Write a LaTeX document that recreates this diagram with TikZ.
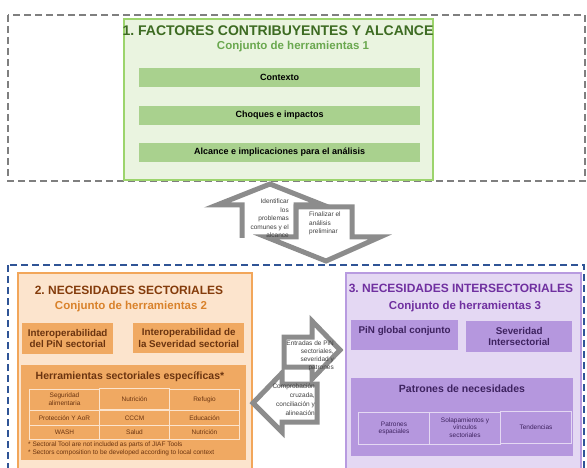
\documentclass[tikz,border=0pt]{standalone}
\usepackage{fontspec}
\setmainfont{Liberation Sans}
\usetikzlibrary{calc,matrix,positioning}
\frenchspacing

\definecolor{grisMarco}{HTML}{7F7F7F}
\definecolor{azulMarco}{HTML}{2F5496}
\definecolor{grisFlecha}{HTML}{8C8C8C}
\definecolor{grisTexto}{HTML}{404040}
\definecolor{verdeBorde}{HTML}{9CD46C}
\definecolor{verdeFondo}{HTML}{EAF4E0}
\definecolor{verdeCaja}{HTML}{A9D18E}
\definecolor{verdeTitulo}{HTML}{3D6B22}
\definecolor{verdeSub}{HTML}{6AA84F}
\definecolor{naranjaBorde}{HTML}{F2A65A}
\definecolor{naranjaFondo}{HTML}{FCE4CD}
\definecolor{naranjaCaja}{HTML}{F0A962}
\definecolor{naranjaTitulo}{HTML}{843C0C}
\definecolor{naranjaSub}{HTML}{D9822B}
\definecolor{naranjaTexto}{HTML}{6B3410}
\definecolor{moradoBorde}{HTML}{B89BE0}
\definecolor{moradoFondo}{HTML}{E4D8F3}
\definecolor{moradoCaja}{HTML}{B597DE}
\definecolor{moradoTitulo}{HTML}{7030A0}
\definecolor{moradoTexto}{HTML}{3E2360}

\newcommand{\tam}[2]{\fontsize{#1}{#2}\selectfont}
\newcommand{\lineas}[1]{\begin{tabular}{@{}c@{}}#1\end{tabular}}

\begin{document}
\begin{tikzpicture}[x=1pt,y=-1pt,
    marco/.style={draw=#1,line width=1.6pt,dash pattern=on 7pt off 4pt},
    bloque/.style={draw=#1Borde,fill=#1Fondo,line width=2.4pt,anchor=north west,inner sep=0pt},
    caja/.style={fill=#1Caja,anchor=north west,inner sep=0pt},
    titulo/.style={font=\tam{12}{14}\bfseries},
    subtitulo/.style={font=\tam{11.5}{13}\bfseries},
    etiqueta/.style={font=\tam{9.8}{11.5}\bfseries,align=center},
    celda/.style={draw=#1,line width=0.6pt,inner sep=0pt,font=\tam{6.5}{7.5}},
    flecha/.style={draw=grisFlecha,line width=5pt,fill=white,line join=miter},
    nota/.style={font=\tam{6.5}{8.5},text=grisTexto,inner sep=0pt}
  ]
    \useasboundingbox (0,0) rectangle (587,468);

    \draw[marco=grisMarco] (8,15) rectangle (585,181);
    \node[bloque=verde,minimum width=309pt,minimum height=161pt] (herr1) at (123,18) {};
    \node[titulo,font=\tam{14}{16}\bfseries,text=verdeTitulo] (tit1) at (278,31) {1. FACTORES CONTRIBUYENTES Y ALCANCE};
    \node[subtitulo,text=verdeSub] (sub1) at (293,47) {Conjunto de herramientas 1};
    \foreach \y/\t [count=\i] in {68/Contexto,106/Choques e impactos,143/Alcance e implicaciones para el análisis}
      \node[caja=verde,minimum width=281pt,minimum height=18.5pt,font=\tam{9}{10}\bfseries] (barra\i) at (139,\y) {\t};

    \draw[marco=azulMarco] (8,265) rectangle (584,480);

    \node[bloque=naranja,minimum width=234pt,minimum height=215pt] (herr2) at (17,272) {};
    \node[titulo,text=naranjaTitulo] (tit2) at (129,290) {2. NECESIDADES SECTORIALES};
    \node[subtitulo,text=naranjaSub] (sub2) at (131,307) {Conjunto de herramientas 2};
    \node[caja=naranja,minimum width=91pt,minimum height=31pt] (pinSect) at (22,323) {};
    \node[etiqueta,text=naranjaTexto] at (pinSect) {Interoperabilidad\\del PiN sectorial};
    \node[caja=naranja,minimum width=111pt,minimum height=30pt] (sevSect) at (133,323) {};
    \node[etiqueta,text=naranjaTexto] at (sevSect) {Interoperabilidad de\\la Severidad sectorial};
    \node[caja=naranja,minimum width=225pt,minimum height=95pt] (sectEsp) at (21,365) {};
    \node[etiqueta,font=\tam{10.5}{12}\bfseries,text=naranjaTexto] (titEsp) at (130,377) {Herramientas sectoriales específicas*};
    \matrix [%
      matrix of nodes,
      anchor=north west,
      inner sep=0pt,
      column sep=-0.6pt,
      row sep=-0.6pt,
      nodes={celda=naranjaFondo,text=naranjaTexto,minimum width=70pt,minimum height=15pt},
      row 1/.style={nodes={minimum height=21pt}},
      row 3/.style={nodes={minimum height=14pt}}
    ] (tablaSect) at (29,388) {%
      \lineas{Seguridad\\alimentaria} & Nutrición & Refugio \\
      Protección Y AoR & CCCM & Educación \\
      WASH & Salud & Nutrición \\
    };
    \node[nota,text=naranjaTexto,anchor=north west,align=left,font=\tam{6.5}{7.8}] (notas) at (28,442)
      {* Sectoral Tool are not included as parts of JIAF Tools\\* Sectors composition to be developed according to local context};

    \node[bloque=morado,minimum width=235pt,minimum height=215pt] (herr3) at (345,272) {};
    \node[titulo,text=moradoTitulo] (tit3) at (461,288) {3. NECESIDADES INTERSECTORIALES};
    \node[subtitulo,text=moradoTitulo] (sub3) at (465,307) {Conjunto de herramientas 3};
    \node[caja=morado,minimum width=107pt,minimum height=30pt] (pinGlob) at (351,320) {};
    \node[etiqueta,text=moradoTexto] at ($(pinGlob.north)+(0,11)$) {PiN global conjunto};
    \node[caja=morado,minimum width=106pt,minimum height=31pt] (sevInter) at (466,321) {};
    \node[etiqueta,text=moradoTexto] at (sevInter) {Severidad\\Intersectorial};
    \node[caja=morado,minimum width=222pt,minimum height=78pt] (patrones) at (351,378) {};
    \node[etiqueta,font=\tam{10.5}{12}\bfseries,text=moradoTexto] (titPatr) at (462,389) {Patrones de necesidades};
    \matrix [%
      matrix of nodes,
      anchor=north west,
      inner sep=0pt,
      column sep=-0.6pt,
      nodes={celda=moradoFondo,text=moradoTexto,minimum width=71pt,minimum height=32pt}
    ] (tablaPatr) at (358,411) {%
      \lineas{Patrones\\espaciales} & \lineas{Solapamientos y\\vínculos\\sectoriales} & Tendencias \\
    };

    \draw[flecha] (242,238) -- (242,205) -- (217,205) -- (270,184) -- (323,205) -- (296,205) -- (296,237);
    \draw[flecha] (296,207) -- (352,207) -- (352,237) -- (380,237) -- (326,261) -- (266,237) -- (296,237) -- cycle;
    \node[nota,anchor=north east,align=right] (identificar) at (289,199) {Identificar\\los\\problemas\\comunes y el\\alcance};
    \node[nota,anchor=north west,align=left] (finalizar) at (309,212) {Finalizar el\\análisis\\preliminar};

    \draw[flecha] (284,367) -- (284,337) -- (312,337) -- (312,321) -- (340,350) -- (312,379) -- (312,367) -- cycle;
    \draw[flecha] (317,384) -- (282,384) -- (282,373) -- (253,403) -- (282,432) -- (282,422) -- (317,422) -- cycle;
    \node[nota,anchor=north east,align=right,font=\tam{6.5}{8}] (entradas) at (334,341) {Entradas de PiN\\sectoriales,\\severidad y\\patrones};
    \node[nota,anchor=north east,align=right,font=\tam{6.5}{9}] (comprobacion) at (315,384) {Comprobación\\cruzada,\\conciliación y\\alineación};
 \end{tikzpicture}
\end{document}
